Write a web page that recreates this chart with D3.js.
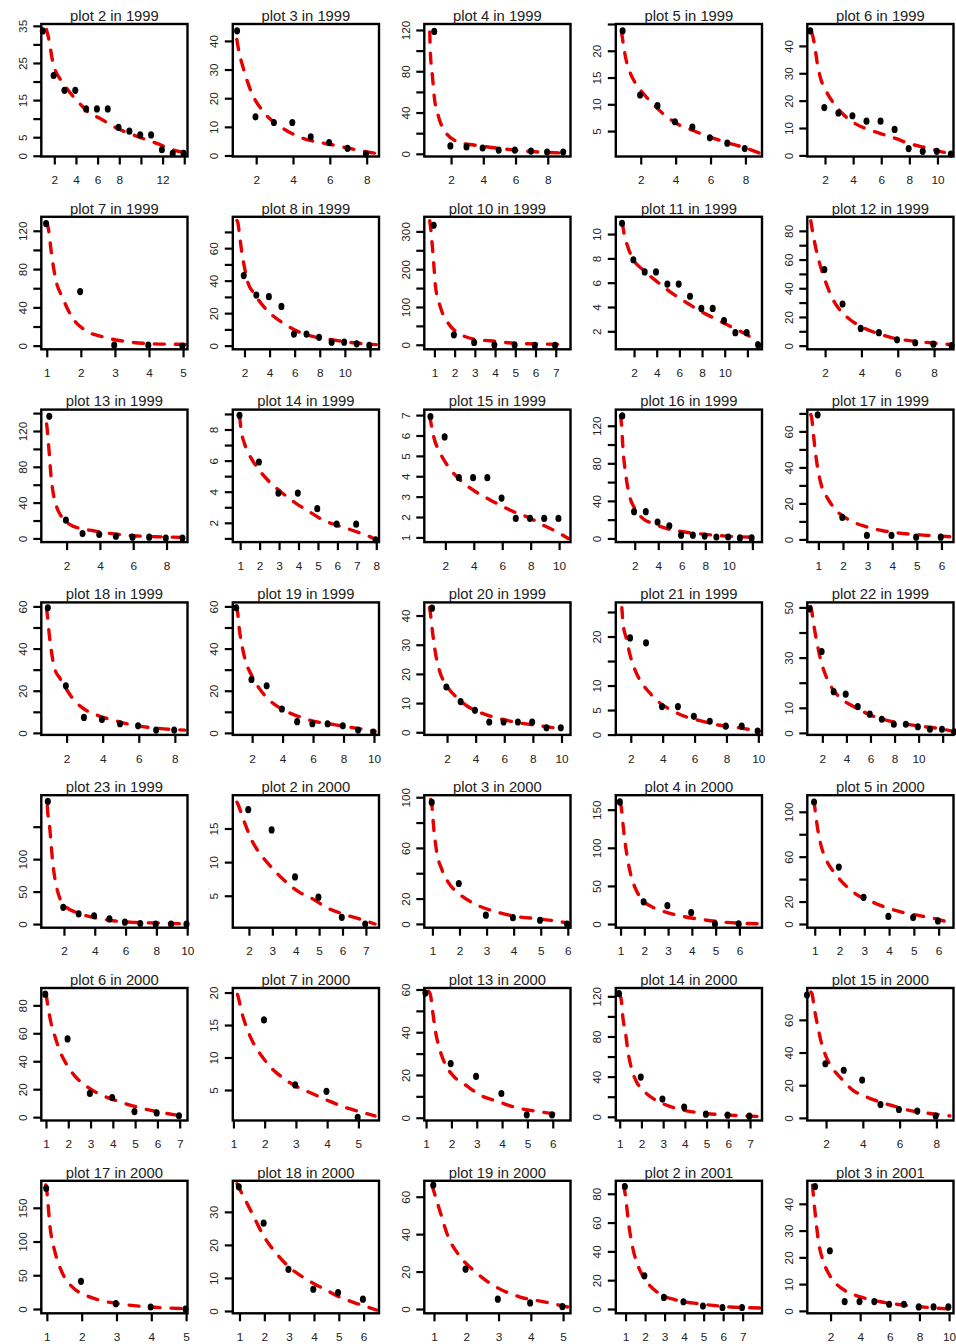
<!DOCTYPE html>
<html>
<head>
<meta charset="utf-8">
<script src="https://cdn.jsdelivr.net/npm/d3@7"></script>
<style>
  body { margin: 0; background: #fff; }
  svg { display: block; }
</style>
</head>
<body>
<script>
// Rank-abundance panels: observed abundance by rank (points) and the fitted curve (red dashes).
const titles = [
  "plot 2 in 1999", "plot 3 in 1999", "plot 4 in 1999", "plot 5 in 1999", "plot 6 in 1999",
  "plot 7 in 1999", "plot 8 in 1999", "plot 10 in 1999", "plot 11 in 1999", "plot 12 in 1999",
  "plot 13 in 1999", "plot 14 in 1999", "plot 15 in 1999", "plot 16 in 1999", "plot 17 in 1999",
  "plot 18 in 1999", "plot 19 in 1999", "plot 20 in 1999", "plot 21 in 1999", "plot 22 in 1999",
  "plot 23 in 1999", "plot 2 in 2000", "plot 3 in 2000", "plot 4 in 2000", "plot 5 in 2000",
  "plot 6 in 2000", "plot 7 in 2000", "plot 13 in 2000", "plot 14 in 2000", "plot 15 in 2000",
  "plot 17 in 2000", "plot 18 in 2000", "plot 19 in 2000", "plot 2 in 2001", "plot 3 in 2001"
];

// observed ranks
const pointX = [
  [1,2,3,4,5,6,7,8,9,10,11,12,13,14], [1,2,3,4,5,6,7,8], [1,2,3,4,5,6,7,8,9], [1,2,3,4,5,6,7,8], [1,2,3,4,5,6,7,8,9,10,11],
  [1,2,3,4,5], [2,3,4,5,6,7,8,9,10,11,12], [1,2,3,4,5,6,7], [1,2,3,4,5,6,7,8,9,10,11,12,13], [2,3,4,5,6,7,8,9],
  [1,2,3,4,5,6,7,8,9], [1,2,3,4,5,6,7,8], [1,2,3,4,5,6,7,8,9,10], [1,2,3,4,5,6,7,8,9,10,11,12], [1,2,3,4,5,6],
  [1,2,3,4,5,6,7,8], [1,2,3,4,5,6,7,8,9,10], [1,2,3,4,5,6,7,8,9,10], [2,3,4,5,6,7,8,9,10], [1,2,3,4,5,6,7,8,9,10,11,12,13],
  [1,2,3,4,5,6,7,8,9,10], [2,3,4,5,6,7], [1,2,3,4,5,6], [1,2,3,4,5,6], [1,2,3,4,5,6],
  [1,2,3,4,5,6,7], [2,3,4,5], [1,2,3,4,5,6], [1,2,3,4,5,6,7], [1,2,3,4,5,6,7,8],
  [1,2,3,4,5], [1,2,3,4,5,6], [1,2,3,4,5], [1,2,3,4,5,6,7], [1,2,3,4,5,6,7,8,9,10]
];

// observed abundances
const pointY = [
  [34,22,18,18,13,13,13,8,7,6,6,2,1,1], [44,14,12,12,7,5,3,1], [120,9,8,7,5,5,4,3,3], [24,12,10,7,6,4,3,2], [46,18,16,15,13,13,10,3,2,2,1],
  [129,58,2,2,1], [44,32,31,25,8,8,6,3,3,2,1], [320,30,10,3,3,2,2], [11,8,7,7,6,6,5,4,4,3,2,2,1], [54,30,13,10,5,3,2,1],
  [138,22,7,6,4,3,3,2,2], [9,6,4,4,3,2,2,1], [7,6,4,4,4,3,2,2,2,2], [132,30,30,19,15,5,5,4,3,3,2,2], [70,13,3,3,2,2],
  [60,23,8,7,5,4,2,2], [60,26,23,12,6,5,5,4,2,1], [43,16,11,8,4,4,4,4,2,2], [20,19,6,6,4,3,2,2,1], [50,33,17,16,11,8,6,4,4,3,2,2,1],
  [191,28,18,15,10,5,3,2,2,2], [18,15,8,5,2,1], [97,33,8,6,4,1], [162,31,26,17,2,2], [110,52,25,8,7,4],
  [89,57,18,15,5,4,2], [16,6,5,1], [59,26,20,12,2,2], [124,41,19,11,4,3,2], [76,34,30,24,9,6,5,2],
  [181,43,10,5,2], [38,27,13,7,6,4], [67,22,6,4,2], [86,24,9,6,3,2,2], [47,23,4,4,4,3,3,2,2,2]
];

// fitted curve, sampled along rank
const curveX = [
  [1.28,1.45,1.9,2.83,4.06,5.3,6.2,7.45,9.3,11.4,12.96,13.9],
  [0.95,1.0,1.36,1.76,2.36,3.0,3.64,4.36,5.1,6,6.9,7.8,8.45],
  [0.68,0.71,0.85,0.96,1.23,1.65,2.48,3.41,4.4,6.7,9.2],
  [0.9,1.14,1.37,1.85,2.5,3.28,4.23,5.0,5.94,6.9,7.85,8.8],
  [1.05,1.14,1.28,1.45,1.69,2.05,2.64,3.24,3.96,4.9,6,7.06,8.0,9.2,10.4,11.07],
  [1.0,1.05,1.14,1.26,1.47,1.73,2.12,2.71,3.34,4.02,4.8,5.1],
  [1.4,1.47,1.6,1.79,2.0,2.27,2.8,3.47,4.27,5.2,6.4,7.73,9.07,10.4,11.73,12.5],
  [0.77,0.8,0.89,0.97,1.05,1.3,1.71,2.29,2.95,3.74,5.06,6.38,7.53],
  [0.98,1.03,1.47,1.91,2.79,3.67,4.55,5.72,6.9,8.07,9.24,10.4,11.6,12.47,13.2],
  [1.21,1.39,1.58,1.85,2.1,2.4,2.77,3.33,4.06,4.99,6,7.02,8.13,8.96],
  [0.8,0.84,0.96,1.06,1.2,1.4,1.7,2.1,2.8,3.6,4.6,6,7.4,9.1],
  [0.97,1.05,1.22,1.48,1.91,2.51,3.2,3.89,4.58,5.27,5.96,6.65,7.33,7.85,8.06],
  [0.9,1.18,1.65,2.23,3.06,4.0,5.12,5.94,7.0,7.94,8.88,9.82,10.64],
  [0.79,0.87,1.0,1.24,1.58,2.0,2.71,3.55,4.68,6.1,7.8,9.77,12.6],
  [0.69,0.73,0.78,0.86,0.96,1.1,1.37,1.71,2.25,2.93,3.62,4.43,5.25,6.34],
  [0.89,0.93,1.04,1.17,1.35,1.63,2.0,2.46,3.01,3.85,4.77,5.69,6.8,7.9,8.55],
  [0.99,1.05,1.16,1.38,1.6,1.93,2.48,3.14,4.02,5.01,6,6.99,7.98,9.08,10.07],
  [0.78,0.83,0.99,1.18,1.48,2.0,2.7,3.4,4.1,5.33,6.85,8.36,10.1],
  [1.44,1.52,1.73,1.94,2.25,2.67,3.19,3.81,4.65,5.48,6.52,7.56,8.81,10.06],
  [1.03,1.11,1.3,1.5,1.72,2,2.42,2.97,3.67,4.79,5.9,7.29,8.69,10.08,11.47,12.8],
  [0.92,0.94,1.05,1.14,1.25,1.42,1.63,2.06,2.82,3.9,5.2,6.5,8.23,9.96],
  [1.49,1.53,1.81,2.17,2.6,3.03,3.6,4.17,4.74,5.31,6.03,6.74,7.39],
  [0.94,0.98,1.04,1.16,1.34,1.58,2.0,2.49,3.19,4.03,5.0,5.9],
  [1.0,1.04,1.11,1.21,1.32,1.46,1.67,1.95,2.37,2.93,3.63,4.46,5.44,6.84],
  [0.97,1.01,1.11,1.24,1.45,1.78,2.12,2.66,3.2,3.88,4.55,5.23,5.9,6.51],
  [1.0,1.03,1.1,1.21,1.4,1.63,1.93,2.3,2.82,3.42,4.02,4.77,5.51,6.26,7.16],
  [1.13,1.16,1.27,1.43,1.64,1.91,2.17,2.6,3.03,3.5,3.99,4.52,5.05,5.53],
  [1.1,1.17,1.26,1.37,1.54,1.76,2.09,2.62,3.08,3.78,4.57,5.49,6.41],
  [1.0,1.08,1.15,1.28,1.38,1.54,1.77,2.07,2.53,3.14,3.91,4.98,6.05,7.43],
  [1.18,1.24,1.36,1.55,1.73,2.0,2.36,2.82,3.45,4.18,4.91,5.82,6.73,7.64,8.73],
  [0.97,1.0,1.09,1.23,1.43,1.72,2.09,2.52,3.1,3.96,4.97],
  [0.9,1.0,1.48,2.0,2.53,3.0,3.54,4.02,4.55,5.03,5.56,6.04,6.52],
  [0.94,1.0,1.19,1.43,1.81,2.27,2.9,3.67,4.45,5.16],
  [0.9,1.0,1.15,1.36,1.67,2.08,2.69,3.56,4.85,6.38,7.92],
  [0.78,0.85,0.99,1.19,1.53,2.0,2.81,4.03,5.38,7.4,10.1]
];
const curveY = [
  [34,32,24.8,19.5,15,11.4,10.1,7.9,5.6,3.4,1.6,0.9],
  [40.5,38.5,29.2,21.8,15.5,11.4,8.75,6.4,5.0,3.9,2.7,1.5,0.8],
  [118,100,74.5,55,35.6,21,11.3,8.5,6.4,2.5,0.6],
  [23.5,18.6,16.1,13.25,10.75,8.25,6.1,5.1,3.9,2.9,2.0,0.9],
  [45,43.4,39.7,33.6,28.1,23.8,18.9,15.3,12.2,9.8,7.9,6.1,4.3,2.8,1.2,0.6],
  [129,121.7,95.7,69.6,49.7,30.3,16.3,8.7,4.2,2.1,1.4,1.2],
  [77,75.8,68.6,57.4,48.2,38.9,31.8,24.6,18.4,13.3,8.2,5.1,3.5,2.0,1.0,0.6],
  [328,315,266,213,156,99,55,28,15,10.6,3.7,2,0.5],
  [10.9,10.55,8.9,7.95,7.05,6.35,5.7,4.9,4.2,3.55,3.0,2.45,1.9,1.4,0.75],
  [87,74,63,51,42,33,25.5,18.6,12.8,8.1,4.6,3.0,1.6,0.7],
  [128,120.8,94.8,70.6,50.2,35.3,24.2,16.7,11.2,8.6,5.6,3.0,1.9,1.1],
  [8.85,7.95,7.1,6.35,5.5,4.63,3.88,3.24,2.7,2.17,1.85,1.57,1.27,1.0,0.84],
  [6.95,5.94,5.12,4.45,3.8,3.3,2.85,2.55,2.2,1.95,1.6,1.28,0.95],
  [131,122.3,95.7,67.4,44.3,32,21,16,10.6,7.1,4.6,2.5,1.1],
  [69.3,67.5,61,50.7,40.5,31.2,22.9,16.4,10.8,7.1,4.8,3.3,2.4,1.5],
  [59,56.3,46.8,38.1,30.2,26,20.6,15.1,11.1,7.9,5.6,3.7,2.4,1.6,1.3],
  [60,57.1,49.2,39.7,33.3,27.8,21,15.5,11,7.9,5.6,4.4,3.2,1.9,0.8],
  [42.8,41,34.2,27.4,21,15.8,11.8,9,7.2,5.1,3.4,2.3,1.1],
  [25.9,22.5,19.5,16.4,13.3,10.6,8.5,6.5,4.8,3.6,2.7,1.9,1.37,0.7],
  [50.4,48.7,42.7,37.3,32,26.7,21.3,16.7,13.3,10,7.3,5.1,3.7,2.7,1.9,0.7],
  [182,174,156,131,100,69,47,28,17.9,10.3,5.1,2.6,1.5,0.3],
  [18.9,18.6,15.9,12.9,10.7,8.96,7.0,5.5,4.5,3.27,2.28,1.53,0.8],
  [98.2,93.4,77.7,56.6,43.4,33,23.5,16.5,10.6,6.1,3.9,1.1],
  [159.4,150.7,128.8,102.6,80.8,61.1,43.7,30.6,21.8,15.3,10,5.7,2.2,0.3],
  [109.8,102.4,86,71.2,57.9,46,37.1,26.7,20.8,14.8,10.4,7.4,4.5,0.9],
  [88,85.2,78.1,68.6,57.9,47.1,37.6,29.3,22.1,16.2,12.6,8.6,5.5,3.1,0.7],
  [19.7,19.2,16.9,14.5,12.2,10.2,8.6,6.8,5.5,4.5,3.45,2.4,1.65,1.0],
  [59.2,57.6,49.8,40.5,31.9,24.9,19.4,14.8,10.9,7.8,4.7,2.8,1.2],
  [122.3,115,98.3,81.7,65,48.3,35,26.7,18.3,11.7,6.7,3.3,1.7,0.3],
  [77,75.8,67.2,55.9,46.7,37.5,30.3,24.2,17,12.9,9.8,6.8,4.1,2.7,1.2],
  [184,174,122,85,55,33,21,13,7.4,3,0.5],
  [38.5,37,30,22.4,17,13.3,10.3,8.2,6.1,4.2,2.7,1.5,0.3],
  [66,62.6,52,39,28,20,12,6.4,3.7,1],
  [86,78,60,43,29,19,11,6.3,3.5,1.4,0.7],
  [47,42.5,35,25.7,18.3,12.7,8.2,5.2,3.4,1.9,0.7]
];

// axis limits (rank, abundance)
const xLimits = [
  [0.8,14.3],[0.73,8.67],[0.34,9.41],[0.57,8.95],[0.74,11.14],
  [0.84,5.13],[1.07,12.72],[0.5,7.73],[0.39,13.29],[1.02,9.07],
  [0.48,9.26],[0.62,8.14],[0.52,10.8],[0.39,12.82],[0.55,6.49],
  [0.6,8.7],[0.73,10.33],[0.41,10.63],[1.06,10.23],[0.75,12.9],
  [0.53,10.02],[1.31,7.56],[0.7,6.1],[0.8,6.95],[0.7,6.6],
  [0.79,7.35],[0.98,5.66],[0.93,6.7],[0.82,7.55],[0.98,8.93],
  [0.84,5.04],[0.73,6.62],[0.7,5.23],[0.5,7.99],[0.43,10.3]
];
const yLimits = [
  [-0.2,35.5],[-0.35,45.9],[-2.6,125.8],[0.25,25],[-0.4,48],
  [-3.8,134.6],[-2.25,79.3],[-12,338.6],[0.52,11.42],[-2.55,89.8],
  [-4.1,143.9],[0.76,9.28],[0.77,7.27],[-3.9,137.2],[-1.5,72.1],
  [-0.95,61.9],[-0.95,61.9],[-0.9,44.5],[-0.07,26.96],[-0.8,52],
  [-5.6,198.5],[0.25,19.95],[-3,101.6],[-4.8,169],[-3.3,114.8],
  [-2.4,92.4],[0.3,20.7],[-1.3,60.7],[-3.7,128.3],[-1.6,79.5],
  [-6.4,190],[-0.7,39.4],[-2.3,68.5],[-3,89],[-0.9,48.6]
];

// tick spacing and the tick values that carry a label
const xTickStep = [2,2,2,2,2, 1,2,1,2,2, 2,1,2,2,1, 2,2,2,2,2, 2,1,1,1,1, 1,1,1,1,2, 1,1,1,1,2];
const yTickStep = [5,10,20,5,10, 20,10,50,2,10, 20,1,1,20,10, 10,10,10,5,10, 50,5,20,50,20, 20,5,10,20,20, 50,10,20,20,10];
const xTickLabels = [
  [2,4,6,8,12],[2,4,6,8],[2,4,6,8],[2,4,6,8],[2,4,6,8,10],
  [1,2,3,4,5],[2,4,6,8,10],[1,2,3,4,5,6,7],[2,4,6,8,10],[2,4,6,8],
  [2,4,6,8],[1,2,3,4,5,6,7,8],[2,4,6,8,10],[2,4,6,8,10],[1,2,3,4,5,6],
  [2,4,6,8],[2,4,6,8,10],[2,4,6,8,10],[2,4,6,8,10],[2,4,6,8,10],
  [2,4,6,8,10],[2,3,4,5,6,7],[1,2,3,4,5,6],[1,2,3,4,5,6],[1,2,3,4,5,6],
  [1,2,3,4,5,6,7],[1,2,3,4,5],[1,2,3,4,5,6],[1,2,3,4,5,6,7],[2,4,6,8],
  [1,2,3,4,5],[1,2,3,4,5,6],[1,2,3,4,5],[1,2,3,4,5,6,7],[2,4,6,8,10]
];
const yTickLabels = [
  [0,5,15,25,35],[0,10,20,30,40],[0,40,80,120],[5,10,15,20],[0,10,20,30,40],
  [0,40,80,120],[0,20,40,60],[0,100,200,300],[2,4,6,8,10],[0,20,40,60,80],
  [0,40,80,120],[2,4,6,8],[1,2,3,4,5,6,7],[0,40,80,120],[0,20,40,60],
  [0,20,40,60],[0,20,40,60],[0,10,20,30,40],[0,5,10,20],[0,10,30,50],
  [0,50,100],[5,10,15],[0,20,60,100],[0,50,100,150],[0,20,60,100],
  [0,20,40,60,80],[5,10,15,20],[0,20,40,60],[0,40,80,120],[0,20,40,60,80],
  [0,50,100,150],[0,10,20,30],[0,20,40,60],[0,20,40,60,80],[0,10,20,30,40]
];

// ---- page layout ----
const W = 956, H = 1344;
const grid = { cols: 5, left: 41.3, top: 24, colStep: 191.5, rowStep: 192.8, w: 146.2, h: 132.5 };
const FONT = "'Liberation Sans', Arial, Helvetica, sans-serif";
const INK = "#222";

const svg = d3.select("body").append("svg")
  .attr("width", W).attr("height", H)
  .attr("viewBox", `0 0 ${W} ${H}`);

function tickValues(lim, step) {
  const start = Math.ceil(lim[0] / step - 1e-9);
  const stop = Math.floor(lim[1] / step + 1e-9);
  return d3.range(start, stop + 1).map(k => +(k * step).toFixed(6));
}

titles.forEach((title, i) => {
  const col = i % grid.cols, row = Math.floor(i / grid.cols);
  const g = svg.append("g")
    .attr("transform", `translate(${grid.left + col * grid.colStep},${grid.top + row * grid.rowStep})`);

  const x = d3.scaleLinear().domain(xLimits[i]).range([0, grid.w]);
  const y = d3.scaleLinear().domain(yLimits[i]).range([grid.h, 0]);

  const clipId = `panel-clip-${i}`;
  g.append("clipPath").attr("id", clipId)
    .append("rect").attr("width", grid.w).attr("height", grid.h);

  // bottom axis
  const xLab = new Set(xTickLabels[i]);
  const gx = g.append("g")
    .attr("transform", `translate(0,${grid.h})`)
    .call(d3.axisBottom(x)
      .tickValues(tickValues(xLimits[i], xTickStep[i]))
      .tickSize(8).tickSizeOuter(0)
      .tickFormat(d => xLab.has(d) ? String(d) : ""));
  gx.select(".domain").remove();
  gx.attr("font-family", FONT).attr("font-size", 11.8);
  gx.selectAll(".tick line").attr("stroke", "#000").attr("stroke-width", 2.2);
  gx.selectAll(".tick text").attr("fill", INK).attr("y", 27.8).attr("dy", null);

  // left axis, labels running along the axis
  const yLab = new Set(yTickLabels[i]);
  const gy = g.append("g")
    .call(d3.axisLeft(y)
      .tickValues(tickValues(yLimits[i], yTickStep[i]))
      .tickSize(8).tickSizeOuter(0)
      .tickFormat(d => yLab.has(d) ? String(d) : ""));
  gy.select(".domain").remove();
  gy.attr("font-family", FONT).attr("font-size", 11.8);
  gy.selectAll(".tick line").attr("stroke", "#000").attr("stroke-width", 2.2);
  gy.selectAll(".tick text")
    .attr("fill", INK)
    .attr("x", null).attr("y", null)
    .attr("text-anchor", "middle")
    .attr("dy", "0.36em")
    .attr("transform", "translate(-19,0) rotate(-90)");

  // fitted curve
  const line = d3.line()
    .x(d => x(d[0])).y(d => y(d[1]))
    .curve(d3.curveMonotoneX);
  g.append("path")
    .datum(d3.zip(curveX[i], curveY[i]))
    .attr("clip-path", `url(#${clipId})`)
    .attr("d", line)
    .attr("fill", "none")
    .attr("stroke", "#e60000")
    .attr("stroke-width", 3.4)
    .attr("stroke-linecap", "round")
    .attr("stroke-dasharray", "10,11");

  // observed points
  g.append("g").selectAll("ellipse")
    .data(d3.zip(pointX[i], pointY[i]))
    .join("ellipse")
    .attr("cx", d => x(d[0]) - 0.7)
    .attr("cy", d => y(d[1]) + 1.4)
    .attr("rx", 3.0).attr("ry", 3.6)
    .attr("fill", "#000");

  // frame
  g.append("rect")
    .attr("width", grid.w).attr("height", grid.h)
    .attr("fill", "none").attr("stroke", "#000").attr("stroke-width", 2.4);

  // panel title
  g.append("text")
    .attr("x", grid.w / 2).attr("y", -3.3)
    .attr("text-anchor", "middle")
    .attr("font-family", FONT).attr("font-size", 14.8)
    .attr("fill", INK)
    .text(title);
});
</script>
</body>
</html>
